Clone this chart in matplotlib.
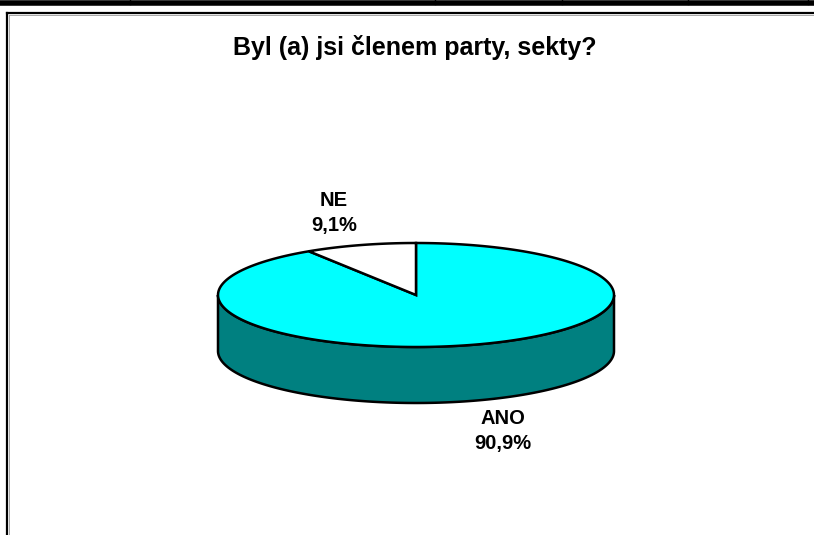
import numpy as np
import matplotlib.pyplot as plt
from matplotlib.patches import Polygon

# data
labels = ["ANO", "NE"]
values = [90.9, 9.1]
label_text = ["ANO\n90,9%", "NE\n9,1%"]
title = "Byl (a) jsi členem party, sekty?"

W, H = 814, 535
fig = plt.figure(figsize=(W / 100, H / 100), dpi=100)
ax = fig.add_axes([0, 0, 1, 1])
ax.set_xlim(0, W)
ax.set_ylim(H, 0)
ax.axis('off')

# pie geometry in pixels
cx, cy = 416, 295
rx, ry = 198, 52
depth = 56


def pt(theta, dy=0):
    t = np.radians(theta)
    return cx + rx * np.cos(t), cy - ry * np.sin(t) + dy


def arc(t0, t1, dy=0, n=200):
    ts = np.linspace(t0, t1, n)
    return [pt(t, dy) for t in ts]


# front side wall (only visible part)
side = arc(180, 360) + arc(360, 180, depth)
ax.add_patch(Polygon(side, closed=True, facecolor='#008080', edgecolor='black', lw=1.8, zorder=2))

# top slices: start at 12 o'clock, NE goes counter-clockwise
fracs = np.array(values) / sum(values)
ne_span = fracs[1] * 360
top_cols = {"ANO": '#00FFFF', "NE": 'white'}
ano = [(cx, cy)] + arc(90 + ne_span, 450)
ne = [(cx, cy)] + arc(90, 90 + ne_span)
ax.add_patch(Polygon(ano, closed=True, facecolor=top_cols["ANO"], edgecolor='black', lw=1.8, zorder=3))
ax.add_patch(Polygon(ne, closed=True, facecolor=top_cols["NE"], edgecolor='black', lw=1.8, zorder=3))

# labels
lab_font = dict(family='Liberation Sans', fontweight='bold', fontsize=14.5,
                ha='center', va='center', linespacing=1.4)
ax.text(503, 431, label_text[0], **lab_font)
ax.text(334, 213, label_text[1], **lab_font)

ax.text(415, 48, title, family='Liberation Sans', fontweight='bold', fontsize=18,
        ha='center', va='center')

# chart frame (left and top only visible)
ax.plot([7, 7], [H + 5, 13], color='black', lw=1.6)
ax.plot([7, W + 5], [13, 13], color='black', lw=1.6)
ax.plot([9, 9], [H + 5, 15], color='#999999', lw=0.6)
ax.plot([9, W + 5], [15, 15], color='#999999', lw=0.6)

# table line at the very top
ax.plot([0, W], [3, 3], color='black', lw=4)
for x in [130, 435, 562, 688, 808]:
    ax.plot([x, x], [0, 4], color='black', lw=1)

fig.savefig('out.png', dpi=100)
